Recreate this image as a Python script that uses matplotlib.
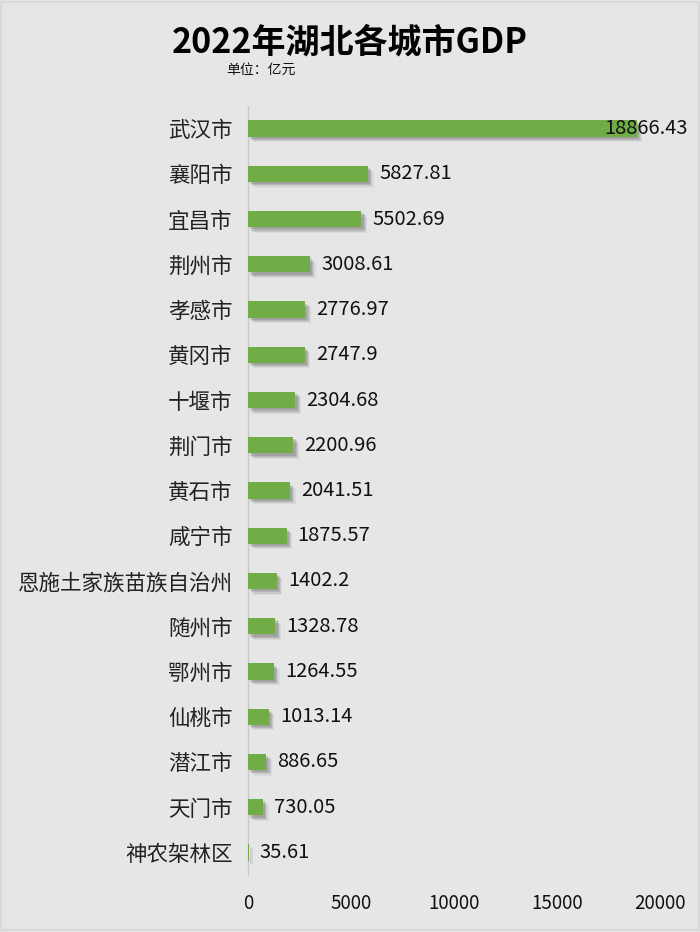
import matplotlib
matplotlib.use("Agg")
import matplotlib.pyplot as plt
import matplotlib.patheffects as pe

plt.rcParams['font.family'] = ['Noto Sans CJK SC', 'DejaVu Sans']

cities = ["武汉市", "襄阳市", "宜昌市", "荆州市", "孝感市", "黄冈市", "十堰市", "荆门市",
          "黄石市", "咸宁市", "恩施土家族苗族自治州", "随州市", "鄂州市", "仙桃市", "潜江市",
          "天门市", "神农架林区"]
gdp = [18866.43, 5827.81, 5502.69, 3008.61, 2776.97, 2747.9, 2304.68, 2200.96,
       2041.51, 1875.57, 1402.2, 1328.78, 1264.55, 1013.14, 886.65, 730.05, 35.61]
value_labels = ["18866.43", "5827.81", "5502.69", "3008.61", "2776.97", "2747.9", "2304.68",
                "2200.96", "2041.51", "1875.57", "1402.2", "1328.78", "1264.55", "1013.14",
                "886.65", "730.05", "35.61"]
xticks = [0, 5000, 10000, 15000, 20000]

bg = "#e7e6e6"
fig = plt.figure(figsize=(7, 9.32), dpi=100, facecolor=bg)
ax = fig.add_axes([248/700, 1-875/932, 412/700, 769/932], facecolor=bg)

ypos = list(range(len(cities)))
shadow = [pe.SimplePatchShadow(offset=(d, -d), shadow_rgbFace="#000000", alpha=a)
          for d, a in [(4.0, 0.05), (3.2, 0.07), (2.4, 0.09), (1.6, 0.11)]]
bars = ax.barh(ypos, gdp, height=0.36, color="#70ad47", zorder=3)
for b in bars:
    b.set_path_effects(shadow + [pe.Normal()])

ax.set_ylim(len(cities) - 0.5, -0.5)
ax.set_xlim(0, 20000)
ax.set_yticks(ypos)
ax.set_yticklabels(cities, fontsize=15.5, color="#222222")
ax.set_xticks(xticks)
ax.set_xticklabels([str(t) for t in xticks], fontsize=13.5, color="#111111")
ax.tick_params(axis='both', length=0)
ax.tick_params(axis='y', pad=11)
ax.tick_params(axis='x', pad=13)
for s in ["top", "right", "bottom"]:
    ax.spines[s].set_visible(False)
ax.spines["left"].set_color("#c8c8c8")
ax.spines["left"].set_linewidth(1.0)

vmax = max(gdp)
for y, v, lab in zip(ypos, gdp, value_labels):
    if v == vmax:
        ax.annotate(lab, xy=(v, y), xytext=(37, 0), textcoords="offset points",
                    ha="right", va="center", fontsize=14.5, color="#111111", zorder=5)
    else:
        ax.annotate(lab, xy=(v, y), xytext=(8, 0), textcoords="offset points",
                    ha="left", va="center", fontsize=14.5, color="#111111", zorder=5)

fig.text(0.5, 1-42/932, "2022年湖北各城市GDP", ha="center", va="center",
         fontsize=24.5, fontweight="bold", color="#000000")
fig.text(261/700, 1-70/932, "单位：亿元", ha="center", va="center",
         fontsize=10, color="#111111")

border = plt.Rectangle((0.002, 0.002), 0.996, 0.996, transform=fig.transFigure,
                       fill=False, edgecolor="#d9d9d9", linewidth=1.5)
fig.patches.append(border)

fig.savefig("out.png", dpi=100, facecolor=bg)
